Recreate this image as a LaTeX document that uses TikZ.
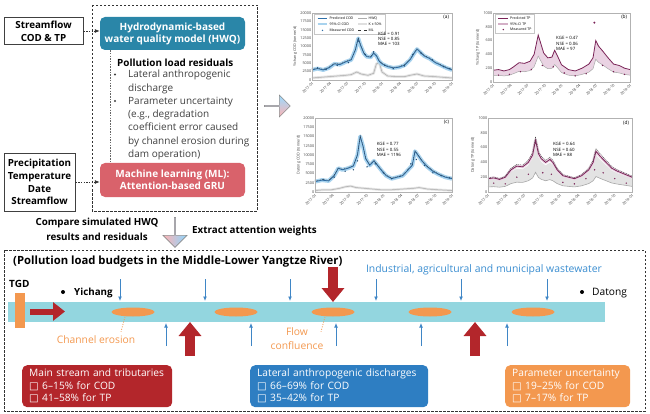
\documentclass[tikz,border=0pt]{standalone}
\usepackage{fontspec}
\setmainfont{Open Sans}
\newfontfamily\symf{DejaVu Sans}
\usetikzlibrary{arrows.meta,shapes.arrows,shapes.geometric}
\definecolor{hwqc}{HTML}{2A86A8}
\definecolor{mlc}{HTML}{D9626B}
\definecolor{rivc}{HTML}{93D6DF}
\definecolor{redc}{HTML}{B3262B}
\definecolor{bluec}{HTML}{2E7EC2}
\definecolor{orc}{HTML}{F3984F}
\definecolor{txtblue}{HTML}{3A8DD0}
\definecolor{arrblue}{HTML}{3F86C6}
\definecolor{codc}{HTML}{2F6FA8}
\definecolor{codband}{HTML}{A9D3EE}
\definecolor{tpc}{HTML}{7A2357}
\definecolor{tpband}{HTML}{EAD3E3}
\tikzset{
 inbox/.style={draw=black!75, line width=0.9pt, align=center, font=\bfseries\fontsize{9.8}{12.7}\selectfont, inner sep=1pt},
 modelbox/.style={rounded corners=5pt, text=white, align=center, font=\bfseries\fontsize{10}{12}\selectfont, minimum width=145pt, inner sep=1pt},
 dashbox/.style={draw=black!80, line width=0.9pt, dash pattern=on 2.5pt off 1.5pt},
 vline/.style={draw=black!60, line width=0.7pt, dash pattern=on 1.5pt off 1.2pt},
 inarrow/.style={draw=black!80, line width=0.8pt, dash pattern=on 1.5pt off 1.2pt, -{Latex[length=5pt,width=4pt]}},
 bold98/.style={font=\bfseries\fontsize{9.8}{15}\selectfont},
 barrow/.style={draw=arrblue, line width=1pt, -{Latex[length=4.5pt,width=4pt]}},
 bigred/.style={draw=redc, line width=10pt, -{Triangle[length=14pt,width=22pt]}},
 orange text/.style={text=orc, font=\fontsize{10.3}{14}\selectfont, align=center},
 leader/.style={draw=orc, line width=0.8pt, dash pattern=on 1pt off 1.5pt},
 resbox/.style={rounded corners=5pt, text=white, align=left, inner xsep=7pt, inner ysep=2.5pt, minimum height=42pt, anchor=north west, font=\fontsize{10.2}{12.5}\selectfont},
 tick/.style={font=\fontsize{3.8}{4}\selectfont, text=black!75, inner sep=0.6pt},
 frame/.style={draw=gray!60, line width=0.4pt},
 stat/.style={font=\fontsize{4.4}{5.4}\selectfont, align=left, anchor=north west, inner sep=0},
 plab/.style={font=\fontsize{4.8}{5}\selectfont, anchor=north east, inner sep=0},
 leg/.style={font=\fontsize{3.5}{4}\selectfont, anchor=west, inner sep=0.5pt},
 legframe/.style={draw=gray!45, fill=white, line width=0.3pt}
}
\def\curveA{plot coordinates {(0,15) (4,17) (8,15) (12,18) (16,24) (20,23) (24,27) (28,30) (31,45) (33,62) (35,50) (37,40) (39,35) (42,34) (44,40) (46,36) (48,28) (50,24) (54,20) (58,18) (62,19) (66,22) (70,30) (73,40) (75,46) (77,42) (80,36) (84,32) (88,26) (92,22) (96,18) (100,15)}}
\def\grayA{plot coordinates {(0,3) (6,4) (12,5) (18,6) (24,7) (28,8) (32,12) (35,9) (40,7) (44,10) (46,24) (48,26) (50,12) (54,6) (60,5) (66,5) (70,7) (75,9) (80,6) (88,5) (94,4) (100,3)}}
\def\curveB{plot coordinates {(0,17) (4,18) (8,16) (12,18) (15,22) (19,28) (23,27) (27,30) (30,40) (33,68) (35,55) (37,42) (40,35) (43,36) (45,46) (47,38) (50,25) (55,18) (60,16) (65,20) (70,26) (73,35) (75,60) (77,52) (80,45) (84,35) (88,26) (92,24) (96,20) (100,18)}}
\def\curveC{plot coordinates {(0,14) (5,16) (10,15) (14,22) (17,32) (20,30) (24,32) (28,35) (31,50) (33,75) (35,62) (37,45) (40,36) (43,42) (46,35) (49,28) (52,22) (56,18) (60,20) (64,22) (68,30) (71,36) (73,55) (75,50) (78,42) (82,34) (86,28) (90,24) (95,20) (100,18)}}
\def\grayC{plot coordinates {(0,2) (6,3) (12,3) (18,5) (22,7) (26,8) (30,6) (36,5) (42,4) (48,3) (56,3) (64,4) (72,5) (76,6) (82,4) (90,3) (100,2)}}
\def\curveD{plot coordinates {(0,18) (4,19) (8,17) (12,20) (16,30) (20,35) (24,34) (28,40) (31,50) (33,70) (35,52) (37,45) (40,40) (43,44) (45,40) (48,30) (52,22) (56,20) (60,18) (65,22) (70,30) (73,40) (75,55) (78,48) (82,40) (86,32) (90,28) (95,24) (100,20)}}
\begin{document}
\begin{tikzpicture}[x=1pt,y=-1pt]
\useasboundingbox (0,0) rectangle (650,414);

% ---------- top-left models ----------
\draw[dashbox] (92,5) rectangle (257,211);
\node[inbox, minimum width=79pt, minimum height=27pt] (sf) at (43.5,31) {Streamflow\\COD \& TP};
\node[inbox, minimum width=71pt, minimum height=58pt] (pre) at (39.5,182) {Precipitation\\Temperature\\Date\\Streamflow};
\node[modelbox, fill=hwqc, minimum height=33pt] (hwq) at (172.5,33.5) {Hydrodynamic-based\\water quality model (HWQ)};
\node[modelbox, fill=mlc, minimum height=34pt] (ml) at (172.5,180) {Machine learning (ML):\\Attention-based GRU};
\draw[inarrow] (sf.east) -- (sf.east -| hwq.west);
\draw[inarrow] (pre.east) -- (pre.east -| ml.west);
\draw[vline] ([xshift=11pt]hwq.south west) -- ([xshift=11pt]ml.north west);
\node[anchor=base west, inner sep=0, font=\bfseries\fontsize{9.9}{11}\selectfont] (resid) at (117,66.5) {Pollution load residuals};
\node[anchor=north west, inner sep=0, align=left, text=black!75, font=\fontsize{10}{13.3}\selectfont] (items) at (128,70) {Lateral anthropogenic\\discharge\\Parameter uncertainty\\(e.g., degradation\\coefficient error caused\\by channel erosion during\\dam operation)};
\fill[black!75] (115,74.5) circle (1.1pt);
\fill[black!75] (115,101) circle (1.1pt);

% ---------- hollow arrows ----------
\node[single arrow, minimum height=26pt, minimum width=22pt, single arrow head extend=5pt, inner sep=0,
  draw=black!45, line width=0.6pt, top color=blue!35!cyan!40, middle color=white, bottom color=red!30] (rarr) at (277,106) {};
\node[single arrow, shape border rotate=270, minimum height=30pt, minimum width=24pt, single arrow head extend=5pt, inner sep=0,
  draw=black!45, line width=0.6pt, left color=red!30, right color=blue!35!cyan!45] (darr) at (175,232) {};
\node[bold98, align=center] (cmp) at (97,229) {Compare simulated HWQ\\results and residuals};
\node[bold98, anchor=west, inner sep=0] (ext) at (192,231) {Extract attention weights};

% ---------- panel (a) ----------
\begin{scope}[shift={(312,80)},x=1.4pt,y=0.67pt]
\fill[white] (0,0) rectangle (100,100);
\draw[gray!22, line width=2.6pt, line join=round] \grayA;
\draw[gray!65, line width=0.5pt] \grayA;
\draw[codband, line width=4pt, line join=round] \curveA;
\draw[codc, line width=0.8pt] \curveA;
\draw[black!80, line width=0.3pt, dash pattern=on 1pt off 0.8pt, yshift=0.6pt] \curveA;
\foreach \x/\y in {4/18,10/16,18/22,26/26,33/58,38/38,44/42,52/22,58/17,66/21,72/38,78/40,86/30,94/20,98/17} \fill[codc!70!black] (\x,\y) circle (0.8pt);
\draw[frame] (0,0) rectangle (100,100);
\foreach \v/\l in {0/0,12.5/2500,25/5000,37.5/7500,50/10000,62.5/12500,75/15000,87.5/17500,100/20000} \node[tick, anchor=east] at (0,\v) {\l};
\foreach \i/\l in {0/2017-01,12.5/2017-04,25/2017-07,37.5/2017-10,50/2018-01,62.5/2018-04,75/2018-07,87.5/2018-10,100/2019-01} \node[tick, rotate=45, anchor=north east] at (\i,-1) {\l};
\node[tick, rotate=90] at (-12,50) {Yichang COD (tonne/d)};
\draw[legframe] (1.5,98.5) rectangle (52,68);
\draw[codc, line width=0.6pt] (4,92) -- (11,92); \node[leg] at (12,92) {Predicted COD};
\draw[codband, line width=2pt] (4,83) -- (11,83); \node[leg] at (12,83) {95\%-CI COD};
\fill[codc] (7.5,74) circle (0.8pt); \node[leg] at (12,74) {Measured COD};
\draw[gray!65, line width=0.5pt] (33,92) -- (39,92); \node[leg] at (40,92) {HWQ};
\draw[gray!25, line width=2pt] (33,83) -- (39,83); \node[leg] at (40,83) {K ± 50\%};
\draw[black!80, line width=0.5pt, dashed] (33,74) -- (39,74); \node[leg] at (40,74) {ML};
\node[stat] at (47,72) {KGE = 0.91\\NSE = 0.85\\MAE = 103};
\node[plab] at (98,97) {(a)};
\end{scope}

% ---------- panel (b) ----------
\begin{scope}[shift={(493,82)},x=1.37pt,y=0.69pt]
\fill[white] (0,0) rectangle (100,100);
\fill[tpband] \curveB -- (100,0) -- (0,0) -- cycle;
\begin{scope}[yscale=0.55]
\fill[white] \curveB -- (100,0) -- (0,0) -- cycle;
\draw[gray!70, line width=0.5pt] \curveB;
\end{scope}
\draw[tpc, line width=0.8pt] \curveB;
\foreach \x/\y in {4/10,12/11,20/15,28/18,36/24,44/22,52/13,60/9,68/12,80/24,88/15,96/11} \fill[tpc] (\x,\y) circle (0.8pt);
\fill[tpc] (74,86) circle (1.1pt);
\draw[frame] (0,0) rectangle (100,100);
\foreach \v/\l in {0/0,20/200,40/400,60/600,80/800,100/1000} \node[tick, anchor=east] at (0,\v) {\l};
\foreach \i/\l in {0/2017-01,12.5/2017-04,25/2017-07,37.5/2017-10,50/2018-01,62.5/2018-04,75/2018-07,87.5/2018-10,100/2019-01} \node[tick, rotate=45, anchor=north east] at (\i,-1) {\l};
\node[tick, rotate=90] at (-11,50) {Yichang TP (tonne/d)};
\draw[legframe] (1.5,98.5) rectangle (30,71);
\draw[tpc, line width=0.6pt] (4,92) -- (11,92); \node[leg] at (12,92) {Predicted TP};
\draw[tpband!80!tpc, line width=2pt] (4,84) -- (11,84); \node[leg] at (12,84) {95\%-CI TP};
\fill[tpc] (7.5,76) circle (0.8pt); \node[leg] at (12,76) {Measured TP};
\node[stat] at (46,66) {KGE = 0.47\\NSE = 0.06\\MAE = 97};
\node[plab] at (98,97) {(b)};
\end{scope}

% ---------- panel (c) ----------
\begin{scope}[shift={(315,192)},x=1.37pt,y=0.74pt]
\fill[white] (0,0) rectangle (100,100);
\draw[gray!22, line width=2.4pt, line join=round] \grayC;
\draw[gray!65, line width=0.5pt] \grayC;
\draw[codband, line width=4pt, line join=round] \curveC;
\draw[codc, line width=0.8pt] \curveC;
\draw[black!80, line width=0.3pt, dash pattern=on 1pt off 0.8pt, yshift=0.6pt] \curveC;
\foreach \x/\y in {6/17,14/20,22/28,28/30,31/42,38/34,44/38,50/26,56/18,62/21,70/38,74/44,80/36,86/26,92/22,98/19} \fill[codc!70!black] (\x,\y) circle (0.8pt);
\draw[frame] (0,0) rectangle (100,100);
\foreach \v/\l in {0/0,12.5/2500,25/5000,37.5/7500,50/10000,62.5/12500,75/15000,87.5/17500,100/20000} \node[tick, anchor=east] at (0,\v) {\l};
\foreach \i/\l in {0/2017-01,12.5/2017-04,25/2017-07,37.5/2017-10,50/2018-01,62.5/2018-04,75/2018-07,87.5/2018-10,100/2019-01} \node[tick, rotate=45, anchor=north east] at (\i,-1) {\l};
\node[tick, rotate=90] at (-12,50) {Datong COD (tonne/d)};
\node[stat] at (45,67) {KGE = 0.77\\NSE = 0.55\\MAE = 1196};
\node[plab] at (98,97) {(c)};
\end{scope}

% ---------- panel (d) ----------
\begin{scope}[shift={(488,192)},x=1.44pt,y=0.74pt]
\fill[white] (0,0) rectangle (100,100);
\begin{scope}[yscale=0.9]
\fill[gray!22] \curveD -- (100,0) -- (0,0) -- cycle;
\end{scope}
\begin{scope}[yscale=0.38]
\fill[white] \curveD -- (100,0) -- (0,0) -- cycle;
\draw[gray!70, line width=0.6pt] \curveD;
\end{scope}
\draw[tpband, line width=3pt, line join=round] \curveD;
\draw[tpc, line width=0.8pt] \curveD;
\begin{scope}[yscale=1.07]
\draw[black!80, line width=0.35pt, dash pattern=on 1pt off 0.8pt] \curveD;
\end{scope}
\foreach \x/\y in {4/12,12/11,20/20,28/24,33/66,38/26,44/24,52/13,60/11,68/18,74/30,80/26,88/18,96/12} \fill[tpc] (\x,\y) circle (0.8pt);
\draw[frame] (0,0) rectangle (100,100);
\foreach \v/\l in {0/0,20/200,40/400,60/600,80/800,100/1000} \node[tick, anchor=east] at (0,\v) {\l};
\foreach \i/\l in {0/2017-01,12.5/2017-04,25/2017-07,37.5/2017-10,50/2018-01,62.5/2018-04,75/2018-07,87.5/2018-10,100/2019-01} \node[tick, rotate=45, anchor=north east] at (\i,-1) {\l};
\node[tick, rotate=90] at (-10.5,50) {Datong TP (tonne/d)};
\node[stat] at (45,67) {KGE = 0.64\\NSE = 0.60\\MAE = 88};
\node[plab] at (98,97) {(d)};
\end{scope}

% ---------- bottom budget panel ----------
\draw[dashbox] (4,250) rectangle (645,411);
\node[anchor=base west, inner sep=0, font=\bfseries\fontsize{11.3}{13}\selectfont] (ttl) at (13,264.5) {(Pollution load budgets in the Middle-Lower Yangtze River)};
\node[anchor=base west, inner sep=0, font=\bfseries\fontsize{10}{11}\selectfont] (tgd) at (9,287) {TGD};
\node[fill=rivc, minimum width=597pt, minimum height=20pt, inner sep=0] (river) at (306.5,312) {};
\node[fill=orc, minimum width=10pt, minimum height=35pt, inner sep=0] (tgdbar) at (20,310.5) {};
\coordinate (ra1) at (30,311.5);
\coordinate (ra2) at (65,311.5);
\draw[draw=redc, line width=6pt, -{Triangle[length=12pt,width=18pt]}] (ra1) -- (ra2);
\foreach \x [count=\i] in {133,236,333,430,533}
  \node[ellipse, fill=orc, minimum width=43pt, minimum height=9pt, inner sep=0] (e\i) at (\x,312) {};
\fill (63,292) circle (2pt);
\node[anchor=west, inner sep=0, font=\bfseries\fontsize{9.8}{11}\selectfont] (yc) at (74,293) {Yichang};
\fill (582,292) circle (2pt);
\node[anchor=west, inner sep=0, font=\fontsize{10.2}{11}\selectfont] (dt) at (592,293) {Datong};
\foreach \x in {120,205,290,376,461,547} \draw[barrow] (\x,279) -- (\x,301);
\foreach \x in {166,251,336,421,507} \draw[barrow] (\x,346) -- (\x,323);
\draw[bigred] (190,356) -- (190,322);
\draw[bigred] (333,267) -- (333,302);
\draw[bigred] (475,356) -- (475,322);
\node[orange text] (ce) at (96,340) {Channel erosion};
\draw[leader] ([xshift=-8pt]e1.south) -- ++(-4,15);
\node[orange text] (fc) at (297,339) {Flow\\confluence};
\draw[leader] ([xshift=-8pt]e3.south) -- ++(-4,15);
\node[text=txtblue, font=\fontsize{10.4}{12}\selectfont] (ind) at (484,270) {Industrial, agricultural and municipal wastewater};

\node[resbox, fill=redc, text width=136pt] (rb) at (22,365) {Main stream and tributaries\\{\symf □} 6–15\% for COD\\{\symf □} 41–58\% for TP};
\node[resbox, fill=bluec, text width=164pt] (bb) at (250,365) {Lateral anthropogenic discharges\\{\symf □} 66–69\% for COD\\{\symf □} 35–42\% for TP};
\node[resbox, fill=orc, text width=111pt] (ob) at (505,365) {Parameter uncertainty\\{\symf □} 19–25\% for COD\\{\symf □} 7–17\% for TP};
\end{tikzpicture}
\end{document}
